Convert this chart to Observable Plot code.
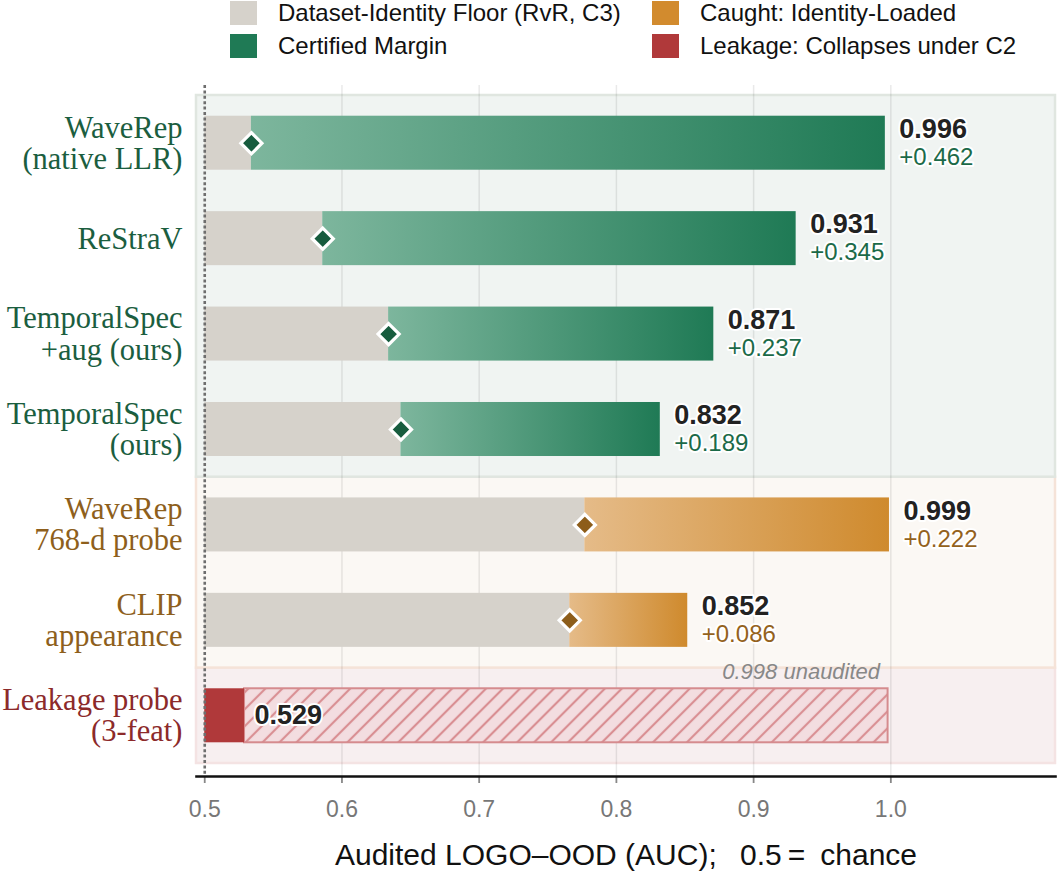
<!DOCTYPE html>
<html><head><meta charset="utf-8">
<script src="https://cdn.jsdelivr.net/npm/d3@7"></script>
<script src="https://cdn.jsdelivr.net/npm/@observablehq/plot@0.6"></script>
<style>
body{margin:0;background:#fff;font-family:"Liberation Sans",Arial,sans-serif;}
#wrap{position:relative;width:1057px;height:871px;overflow:hidden;}
#legend{position:relative;height:80px;}
.li{position:absolute;display:flex;align-items:center;font-size:24px;color:#111;white-space:nowrap;height:24px;}
.sw{width:27px;height:24px;margin-right:21px;flex:none;}
#chart svg{display:block;overflow:visible;}
</style></head><body>
<div id="wrap"><div id="legend"></div><div id="chart"></div></div>
<script>
// ---------- data ----------
const labels = ["WaveRep\n(native LLR)", "ReStraV", "TemporalSpec\n+aug (ours)", "TemporalSpec\n(ours)", "WaveRep\n768-d probe", "CLIP\nappearance", "Leakage probe\n(3-feat)"];
const groups = ["certified", "certified", "certified", "certified", "caught", "caught", "leak"];
const aucValues = [0.996, 0.931, 0.871, 0.832, 0.999, 0.852, 0.529];
const margins = [0.462, 0.345, 0.237, 0.189, 0.222, 0.086, null];
const unauditedValue = 0.998;
const chance = 0.5;
const xTicks = [0.5, 0.6, 0.7, 0.8, 0.9, 1.0];
const legendLabels = ["Dataset-Identity Floor (RvR, C3)", "Caught: Identity-Loaded", "Certified Margin", "Leakage: Collapses under C2"];
const axisTitle = "Audited LOGO\u2013OOD (AUC);\u2002 0.5\u2009=\u2002chance";

// ---------- styles ----------
const legendColors = ["#d6d2cb", "#d28b2e", "#1f7a55", "#b0393a"];
const labelColor = {certified: "#1b5e3f", caught: "#8e5f1c", leak: "#8c2a2a"};
const deltaColor = {certified: "#1b6a48", caught: "#94621d"};
const markerColor = {certified: "#175c3e", caught: "#8d5d1a"};
const panelFill = {certified: "#f0f4f2", caught: "#fbf8f4", leak: "#f7eff0"};
const panelStroke = {certified: "#e0e6e0", caught: "#f5e3d8", leak: "#f4e3e3"};
const H = 0.283; // half bar thickness in row units

// ---------- legend ----------
const legend = document.getElementById("legend");
const legendPos = [[230, 1], [652, 1], [230, 34], [652, 34]];
legendLabels.forEach((t, k) => {
  const d = document.createElement("div");
  d.className = "li";
  d.style.left = legendPos[k][0] + "px";
  d.style.top = legendPos[k][1] + "px";
  d.innerHTML = `<span class="sw" style="background:${legendColors[k]}"></span><span>${t}</span>`;
  legend.appendChild(d);
});

// ---------- rows ----------
const rows = labels.map((label, i) => ({
  i, label, group: groups[i], auc: aucValues[i], margin: margins[i],
  floor: margins[i] == null ? null : +(aucValues[i] - margins[i]).toFixed(3)
}));
const scored = rows.filter(d => d.margin != null);
const leak = rows.filter(d => d.group === "leak");
const panels = [];
groups.forEach((g, i) => {
  if (!panels.length || panels[panels.length - 1].group !== g) panels.push({group: g, start: i, end: i});
  else panels[panels.length - 1].end = i;
});
panels.reverse(); // upper panels drawn last so their borders sit on top

const fmt3 = d3.format(".3f");

const svg = Plot.plot({
  width: 1057,
  height: 791,
  marginLeft: 196,
  marginRight: 2,
  marginTop: 5,
  marginBottom: 95,
  style: {fontFamily: "Liberation Sans, Arial, sans-serif", fontSize: "23px", background: "transparent", overflow: "visible"},
  x: {domain: [0.494, 1.12]},
  y: {domain: [-0.5, labels.length - 0.5], reverse: true, insetTop: 10, insetBottom: 13, axis: null},
  color: {type: "identity"},
  marks: [
    Plot.rect(panels, {y1: d => d.start - 0.5, y2: d => d.end + 0.5, fill: d => panelFill[d.group], stroke: d => panelStroke[d.group], strokeWidth: 2.5}),
    Plot.ruleX(xTicks.slice(1), {stroke: "#000", strokeOpacity: 0.085, strokeWidth: 1.5}),
    // floor bars
    Plot.rect(scored, {x1: () => chance, x2: "floor", y1: d => d.i - H, y2: d => d.i + H, fill: "#d6d2cb"}),
    // margins
    Plot.rect(scored.filter(d => d.group === "certified"), {x1: "floor", x2: "auc", y1: d => d.i - H, y2: d => d.i + H, fill: "url(#gGreen)"}),
    Plot.rect(scored.filter(d => d.group === "caught"), {x1: "floor", x2: "auc", y1: d => d.i - H, y2: d => d.i + H, fill: "url(#gAmber)"}),
    // leakage
    Plot.rect(leak, {x1: "auc", x2: () => unauditedValue, y1: d => d.i - H, y2: d => d.i + H, fill: "url(#hatch)", stroke: "#d58b8e", strokeWidth: 2}),
    Plot.rect(leak, {x1: () => chance, x2: "auc", y1: d => d.i - H, y2: d => d.i + H, fill: "#b0393a"}),
    // chance line
    Plot.ruleX([chance], {stroke: "#6e6e6e", strokeWidth: 2.6, strokeDasharray: "3,2.4"}),
    // floor markers
    Plot.dot(scored, {x: "floor", y: "i", symbol: "diamond2", r: 9.5, fill: d => markerColor[d.group], stroke: "white", strokeWidth: 3.2}),
    // value labels
    Plot.text(scored, {x: "auc", y: "i", text: d => fmt3(d.auc), dx: 14, dy: -14, textAnchor: "start", fontSize: 27, fontWeight: "bold", fill: "#222", stroke: "white", strokeWidth: 4, paintOrder: "stroke"}),
    Plot.text(scored, {x: "auc", y: "i", text: d => "+" + fmt3(d.margin), dx: 14, dy: 14, textAnchor: "start", fontSize: 24, fill: d => deltaColor[d.group], stroke: "white", strokeWidth: 4, paintOrder: "stroke"}),
    Plot.text(leak, {x: "auc", y: "i", text: d => fmt3(d.auc), dx: 10, textAnchor: "start", fontSize: 27, fontWeight: "bold", fill: "#222", stroke: "white", strokeWidth: 4, paintOrder: "stroke"}),
    Plot.text(leak, {x: () => unauditedValue, y: "i", text: () => fmt3(unauditedValue) + " unaudited", dx: -8, dy: -44, textAnchor: "end", fontSize: 22, fontStyle: "italic", fill: "#888"}),
    // row labels
    Plot.text(rows, {frameAnchor: "left", y: "i", text: "label", dx: -14, textAnchor: "end", fontFamily: "Liberation Serif, Times New Roman, serif", fontSize: 30.5, lineHeight: 1.02, fill: d => labelColor[d.group]}),
    // axis
    Plot.axisX(xTicks, {tickFormat: d3.format(".1f"), tickSize: 7, tickPadding: 17, stroke: "#888", strokeWidth: 1.8, fill: "#777", label: null}),
    Plot.frame({anchor: "bottom", stroke: "#111", strokeWidth: 2.6}),
    Plot.text([axisTitle], {frameAnchor: "bottom", dy: 88, fontSize: 30, fill: "#111"})
  ]
});

const defs = d3.select(svg).insert("defs", ":first-child");
const gG = defs.append("linearGradient").attr("id", "gGreen").attr("x1", 0).attr("x2", 1).attr("y1", 0).attr("y2", 0);
gG.append("stop").attr("offset", 0).attr("stop-color", "#7db69d");
gG.append("stop").attr("offset", 1).attr("stop-color", "#1f7a55");
const gA = defs.append("linearGradient").attr("id", "gAmber").attr("x1", 0).attr("x2", 1).attr("y1", 0).attr("y2", 0);
gA.append("stop").attr("offset", 0).attr("stop-color", "#e5bb88");
gA.append("stop").attr("offset", 1).attr("stop-color", "#cf8a2d");
const pat = defs.append("pattern").attr("id", "hatch").attr("patternUnits", "userSpaceOnUse").attr("width", 12).attr("height", 12).attr("patternTransform", "rotate(45)");
pat.append("rect").attr("width", 12).attr("height", 12).attr("fill", "#f3dde0");
pat.append("line").attr("x1", 6).attr("x2", 6).attr("y1", 0).attr("y2", 12).attr("stroke", "#d98f93").attr("stroke-width", 2.2);

document.getElementById("chart").appendChild(svg);
</script>
</body></html>
